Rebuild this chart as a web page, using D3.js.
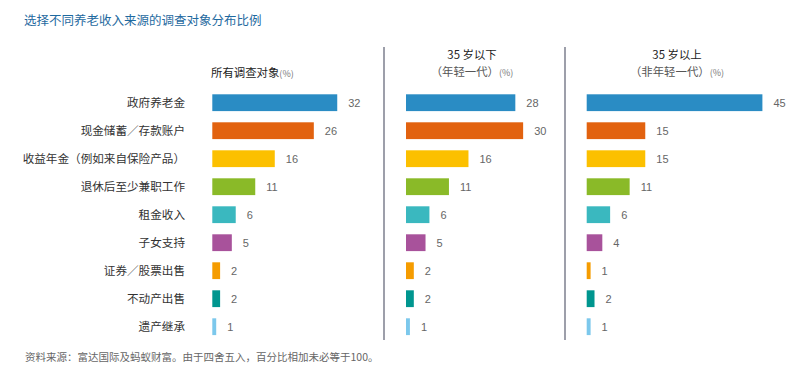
<!DOCTYPE html>
<html><head><meta charset="utf-8">
<script src="https://cdn.jsdelivr.net/npm/d3@7"></script>
<style>
html,body{margin:0;padding:0;background:#fff;}
svg{display:block;font-family:"Noto Sans CJK SC","Noto Sans",sans-serif;}
</style></head>
<body><svg id="c" width="802" height="379"></svg>
<script>
const title = "选择不同养老收入来源的调查对象分布比例";
const categories = ["政府养老金","现金储蓄／存款账户","收益年金（例如来自保险产品）","退休后至少兼职工作","租金收入","子女支持","证券／股票出售","不动产出售","遗产继承"];
const colors = ["#2a8cc4","#e2620f","#fcc000","#8aba28","#3ab8bf","#a8529b","#f59c00","#00968f","#7cc8ec"];
const allRespondents = [32,26,16,11,6,5,2,2,1];
const under35 = [28,30,16,11,6,5,2,2,1];
const over35 = [45,15,15,11,6,4,1,2,1];
const panelTitles = [["所有调查对象"],["35 岁以下","（年轻一代）"],["35 岁以上","（非年轻一代）"]];
const footer = "资料来源：富达国际及蚂蚁财富。由于四舍五入，百分比相加未必等于100。";

const svg = d3.select("#c");
svg.append("text").attr("x",24).attr("y",25).attr("fill","#1f6aa0").attr("font-size",12.5).text(title);

const y = d3.scaleBand().domain(categories).range([88.7, 340.7]).paddingInner(0.4).paddingOuter(0.2);
const x = d3.scaleLinear().domain([0,45]).range([0,175.7]);

// category labels
svg.append("g").selectAll("text").data(categories).join("text")
  .attr("x",185).attr("y",d=>y(d)+y.bandwidth()/2).attr("dy","0.36em")
  .attr("text-anchor","end").attr("font-size",11.6).attr("fill","#333").text(d=>d);

const panels = [
  {x0:212.3, vals:allRespondents, hx:211, anchor:"start"},
  {x0:406, vals:under35, hx:472, anchor:"middle"},
  {x0:586.7, vals:over35, hx:677, anchor:"middle"}
];
panels.forEach((p,i)=>{
  const g = svg.append("g");
  g.selectAll("rect").data(p.vals).join("rect")
    .attr("x",p.x0).attr("y",(d,j)=>y(categories[j]))
    .attr("width",d=>x(d)).attr("height",y.bandwidth())
    .attr("fill",(d,j)=>colors[j]);
  g.selectAll("text.v").data(p.vals).join("text").attr("class","v")
    .attr("x",d=>p.x0+x(d)+11).attr("y",(d,j)=>y(categories[j])+y.bandwidth()/2).attr("dy","0.36em")
    .attr("font-size",11).attr("fill","#666").attr("font-family","Liberation Sans, Arial, sans-serif").text(d=>d);
  const lines = panelTitles[i];
  lines.forEach((l,k)=>{
    const last = k===lines.length-1;
    const t = g.append("text").attr("x",p.hx).attr("y", lines.length===1?77:(k===0?59:76))
      .attr("text-anchor",p.anchor).attr("font-size",11.4).attr("fill", k===0?"#222":"#555");
    t.append("tspan").text(l);
    if(last) t.append("tspan").attr("font-size",9).attr("fill","#777").text("(%)");
  });
});

// separators
[384,565].forEach(sx=>{
  svg.append("line").attr("x1",sx).attr("x2",sx).attr("y1",47).attr("y2",340)
    .attr("stroke","#7d7f8e").attr("stroke-width",1.5);
});

svg.append("text").attr("x",25).attr("y",361).attr("font-size",10.5).attr("fill","#666").text(footer);
</script>
</body></html>
